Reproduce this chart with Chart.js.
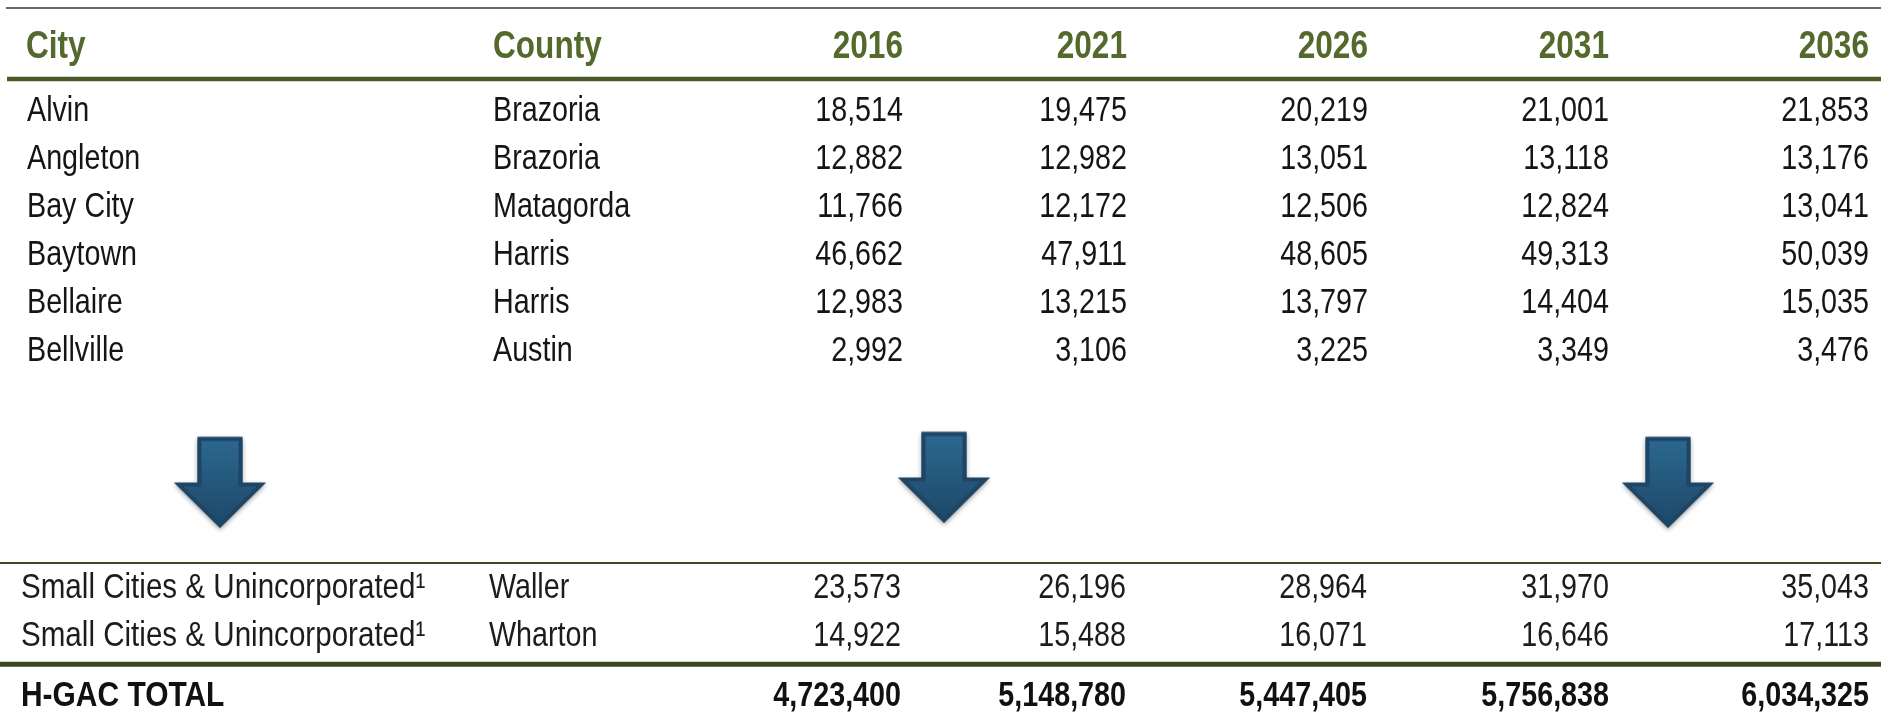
<!DOCTYPE html>
<html>
<head>
<meta charset="utf-8">
<title>H-GAC city population forecast</title>
<script src="https://cdn.jsdelivr.net/npm/chart.js@4.4.1/dist/chart.umd.min.js"></script>
<style>
  html, body { margin: 0; padding: 0; background: #fff; }
  #wrap { width: 1881px; height: 718px; }
</style>
</head>
<body>
<div id="wrap"><canvas id="popTable" width="1881" height="718"></canvas></div>
<script>
// table content
var headers = ['City', 'County', '2016', '2021', '2026', '2031', '2036'];
var cities = ['Alvin', 'Angleton', 'Bay City', 'Baytown', 'Bellaire', 'Bellville'];
var counties = ['Brazoria', 'Brazoria', 'Matagorda', 'Harris', 'Harris', 'Austin'];
var smallLabel = 'Small Cities & Unincorporated\u00B9';
var smallCounties = ['Waller', 'Wharton'];
var totalLabel = 'H-GAC TOTAL';

// population per year: the six cities, then small cities of Waller and Wharton
var pop2016 = [18514, 12882, 11766, 46662, 12983, 2992, 23573, 14922];
var pop2021 = [19475, 12982, 12172, 47911, 13215, 3106, 26196, 15488];
var pop2026 = [20219, 13051, 12506, 48605, 13797, 3225, 28964, 16071];
var pop2031 = [21001, 13118, 12824, 49313, 14404, 3349, 31970, 16646];
var pop2036 = [21853, 13176, 13041, 50039, 15035, 3476, 35043, 17113];
var totals = [4723400, 5148780, 5447405, 5756838, 6034325];

var popByYear = [pop2016, pop2021, pop2026, pop2031, pop2036];

// layout: column anchors in table units, arrow markers
var colX = [26, 493, 903, 1127, 1368, 1609, 1869];
var arrowAt = [220, 944, 1668];

var rowKeys = ['header'].concat(cities, ['gap1', 'gap2', 'arrows', 'gap3'],
    smallCounties.map(function (c) { return 'small-' + c; }), ['total']);

var FONT = '"Liberation Sans", Arial, sans-serif';
// squeeze = horizontal scale per column (narrow font look)
var kinds = {
    head:  { font: 'bold 39px ' + FONT, color: '#536a2c', dy: -16.5, cap: 14,
             squeeze: [0.81, 0.81, 0.81, 0.81, 0.81, 0.81, 0.81], dx: [0, 0, 0, 0, 0, 0, 0] },
    body:  { font: '35px ' + FONT, color: '#151515', dy: 0, cap: 12.5,
             squeeze: [0.82, 0.82, 0.82, 0.82, 0.82, 0.82, 0.82], dx: [1, 0, 0, 0, 0, 0, 0] },
    lower: { font: '35px ' + FONT, color: '#1c1c1c', dy: -3.5, cap: 12.5,
             squeeze: [0.845, 0.82, 0.82, 0.82, 0.82, 0.82, 0.82], dx: [-5, -4, -2, -1, -1, 0, 0] },
    total: { font: 'bold 35px ' + FONT, color: '#111', dy: 9, cap: 12.5,
             squeeze: [0.855, 0.82, 0.82, 0.82, 0.82, 0.82, 0.82], dx: [-5, 0, -2, -1, -1, 0, 0] }
};
// horizontal rules, at fractional row positions
var rules = [
    { at: -1.094, width: 1.5, color: '#353535', from: 6 },
    { at: 0.385, width: 4.5, color: '#4b5b27', from: 7 },
    { at: 10.47, width: 2, color: '#3c4a20', from: 0 },
    { at: 12.58, width: 5, color: '#3b471f', from: 0 }
];

function fmt(n) {
    return n.toLocaleString('en-US');
}

// build one scatter dataset per table column, each point carries its text
function buildCells(c) {
    var data = [{ x: colX[c], y: 'header', text: headers[c], kind: 'head' }];
    cities.forEach(function (city, i) {
        var t = c === 0 ? city : c === 1 ? counties[i] : fmt(popByYear[c - 2][i]);
        data.push({ x: colX[c], y: rowKeys[i + 1], text: t, kind: 'body' });
    });
    smallCounties.forEach(function (county, j) {
        var t = c === 0 ? smallLabel : c === 1 ? county : fmt(popByYear[c - 2][6 + j]);
        data.push({ x: colX[c], y: 'small-' + county, text: t, kind: 'lower' });
    });
    if (c !== 1) {
        data.push({ x: colX[c], y: 'total', text: c === 0 ? totalLabel : fmt(totals[c - 2]), kind: 'total' });
    }
    return {
        type: 'scatter',
        data: data,
        pointRadius: 0,
        isCells: true,
        colIndex: c,
        cellAlign: c < 2 ? 'left' : 'right'
    };
}

function makeArrow(lift) {
    var c = document.createElement('canvas');
    c.width = 120;
    c.height = 150;
    var g = c.getContext('2d');
    g.translate(60, 75 - lift);
    g.beginPath();
    g.moveTo(-22.5, -45.5);
    g.lineTo(22.5, -45.5);
    g.lineTo(22.5, 0);
    g.lineTo(46, 0);
    g.lineTo(0, 45.5);
    g.lineTo(-46, 0);
    g.lineTo(-22.5, 0);
    g.closePath();
    var grad = g.createLinearGradient(0, -45, 0, 45);
    grad.addColorStop(0, '#2c6890');
    grad.addColorStop(1, '#1d4867');
    g.save();
    g.shadowColor = 'rgba(0,0,0,0.35)';
    g.shadowBlur = 5;
    g.shadowOffsetY = 2;
    g.fillStyle = grad;
    g.fill();
    g.restore();
    g.save();
    g.clip();
    g.lineWidth = 8;
    g.strokeStyle = '#1e4563';
    g.stroke();
    g.restore();
    return c;
}
var arrowIcons = [makeArrow(10), makeArrow(15), makeArrow(10)];

var tablePlugin = {
    id: 'tableText',
    beforeDatasetsDraw: function (chart) {
        var ctx = chart.ctx;
        var y = chart.scales.y;
        ctx.save();
        rules.forEach(function (r) {
            var py = y.getPixelForValue(r.at);
            ctx.beginPath();
            ctx.lineWidth = r.width;
            ctx.strokeStyle = r.color;
            ctx.moveTo(r.from, py);
            ctx.lineTo(chart.width, py);
            ctx.stroke();
        });
        ctx.restore();
    },
    afterDatasetsDraw: function (chart) {
        var ctx = chart.ctx;
        chart.data.datasets.forEach(function (ds, di) {
            if (!ds.isCells) return;
            var meta = chart.getDatasetMeta(di);
            meta.data.forEach(function (el, i) {
                var cell = ds.data[i];
                var st = kinds[cell.kind];
                ctx.save();
                ctx.font = st.font;
                ctx.fillStyle = st.color;
                ctx.textBaseline = 'alphabetic';
                ctx.textAlign = ds.cellAlign;
                ctx.translate(el.x + st.dx[ds.colIndex], el.y + st.dy + st.cap);
                ctx.scale(st.squeeze[ds.colIndex], 1);
                ctx.fillText(cell.text, 0, 0);
                ctx.restore();
            });
        });
    }
};

var datasets = headers.map(function (h, c) { return buildCells(c); });
datasets.push({
    type: 'scatter',
    data: arrowAt.map(function (x) { return { x: x, y: 'arrows' }; }),
    pointStyle: function (ctx) { return arrowIcons[ctx.dataIndex]; },
    pointRadius: 10
});

var ctx = document.getElementById('popTable').getContext('2d');
var popChart = new Chart(ctx, {
    type: 'scatter',
    data: { datasets: datasets },
    options: {
        responsive: false,
        animation: false,
        events: [],
        layout: { autoPadding: false, padding: { top: 36.5, bottom: 9.5, left: 0, right: 0 } },
        scales: {
            x: { type: 'linear', min: 0, max: 1881, display: false },
            y: { type: 'category', labels: rowKeys, offset: true, display: false }
        },
        plugins: {
            legend: { display: false },
            tooltip: { enabled: false }
        }
    },
    plugins: [tablePlugin]
});
</script>
</body>
</html>
